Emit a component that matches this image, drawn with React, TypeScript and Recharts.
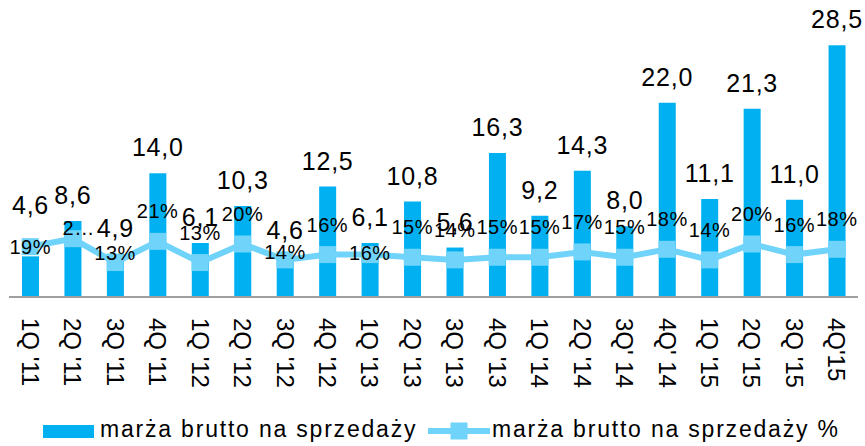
import React from 'react';
import { ComposedChart, Bar, Line, XAxis, YAxis, LabelList } from 'recharts';

const quarters = [
  "1Q '11", "2Q '11", "3Q '11", "4Q '11",
  "1Q '12", "2Q '12", "3Q '12", "4Q '12",
  "1Q '13", "2Q '13", "3Q '13", "4Q '13",
  "1Q '14", "2Q '14", "3Q' 14", "4Q' 14",
  "1Q '15", "2Q '15", "3Q '15", "4Q'15",
];
const grossMargin = [4.6, 8.6, 4.9, 14.0, 6.1, 10.3, 4.6, 12.5, 6.1, 10.8, 5.6, 16.3, 9.2, 14.3, 8.0, 22.0, 11.1, 21.3, 11.0, 28.5];
const grossMarginPct = [0.19, 0.22, 0.13, 0.21, 0.13, 0.2, 0.14, 0.16, 0.16, 0.15, 0.14, 0.15, 0.15, 0.17, 0.15, 0.18, 0.14, 0.2, 0.16, 0.18];
// label that was cut off in the original
const pctLabelOverride: Record<number, string> = { 1: '2…' };

const BAR_COLOR = '#00B0F0';
const LINE_COLOR = '#70D3FA';
const FONT = '"Liberation Sans", Arial, sans-serif';

// how far above the point each % label sits (most are ~30px)
const pctLift: Record<number, number> = { 0: 0, 1: 11, 2: 10, 6: 8, 8: 2 };
const barLift: Record<number, number> = { 0: 51 };

const data = quarters.map((q, i) => ({
  quarter: q,
  margin: grossMargin[i],
  pct: grossMarginPct[i],
}));

const XTick = (props: any) => {
  const { x, y, payload } = props;
  return (
    <text
      x={x}
      y={y + 21}
      dy="0.35em"
      transform={`rotate(90, ${x}, ${y + 21})`}
      textAnchor="start"
      fontSize={24}
      fill="#000"
      fontFamily={FONT}
    >
      {payload.value}
    </text>
  );
};

const BarValueLabel = (props: any) => {
  const { x, y, width, value, index } = props;
  const lift = barLift[index] ?? 26;
  return (
    <text
      x={x + width / 2}
      y={y - lift + 9}
      textAnchor="middle"
      fontSize={25}
      letterSpacing={0.8}
      fill="#000"
      fontFamily={FONT}
    >
      {Number(value).toFixed(1).replace('.', ',')}
    </text>
  );
};

const PctLabel = (props: any) => {
  const { x, y, value, index } = props;
  const lift = pctLift[index] ?? 30;
  const txt = pctLabelOverride[index] ?? `${Math.round(value * 100)}%`;
  return (
    <text
      x={x + (index === 1 ? 6 : 0)}
      y={y - lift + 7}
      textAnchor="middle"
      fontSize={20}
      letterSpacing={0.5}
      fill="#000"
      fontFamily={FONT}
    >
      {txt}
    </text>
  );
};

const SquareDot = (props: any) => {
  const { cx, cy, index } = props;
  return <rect key={index} x={cx - 8.5} y={cy - 8.5} width={17} height={17} fill={LINE_COLOR} />;
};

export default function App() {
  const textStyle: React.CSSProperties = {
    position: 'absolute',
    top: 416,
    fontSize: 23,
    letterSpacing: 1.8,
    fontFamily: FONT,
    color: '#000',
    lineHeight: '26px',
    whiteSpace: 'nowrap',
  };

  return (
    <div style={{ position: 'relative', width: 865, height: 446, background: '#fff' }}>
      <style>{'body{margin:0}'}</style>
      <ComposedChart
        width={865}
        height={446}
        data={data}
        margin={{ top: 32, right: 7, left: 9, bottom: 0 }}
      >
        <XAxis
          dataKey="quarter"
          height={149}
          interval={0}
          tickLine={false}
          tickSize={0}
          tickMargin={0}
          axisLine={{ stroke: '#A0A0A0', strokeWidth: 2 }}
          tick={<XTick />}
        />
        <YAxis yAxisId="val" hide domain={[0, 30]} />
        <YAxis yAxisId="pct" hide domain={[0, 1]} orientation="right" />
        <Bar yAxisId="val" dataKey="margin" fill={BAR_COLOR} barSize={17} isAnimationActive={false}>
          <LabelList dataKey="margin" content={<BarValueLabel />} />
        </Bar>
        <Line
          yAxisId="pct"
          type="linear"
          dataKey="pct"
          stroke={LINE_COLOR}
          strokeWidth={6}
          dot={<SquareDot />}
          activeDot={false}
          isAnimationActive={false}
        >
          <LabelList dataKey="pct" content={<PctLabel />} />
        </Line>
      </ComposedChart>

      {/* legend */}
      <div style={{ position: 'absolute', left: 43, top: 425, width: 51, height: 13, background: BAR_COLOR }} />
      <div style={{ ...textStyle, left: 100 }}>marża brutto na sprzedaży</div>
      <svg style={{ position: 'absolute', left: 428, top: 421 }} width={62} height={20}>
        <line x1={0} y1={10} x2={62} y2={10} stroke={LINE_COLOR} strokeWidth={6} />
        <rect x={22.5} y={1.5} width={17} height={17} fill={LINE_COLOR} />
      </svg>
      <div style={{ ...textStyle, left: 492 }}>marża brutto na sprzedaży %</div>
    </div>
  );
}
